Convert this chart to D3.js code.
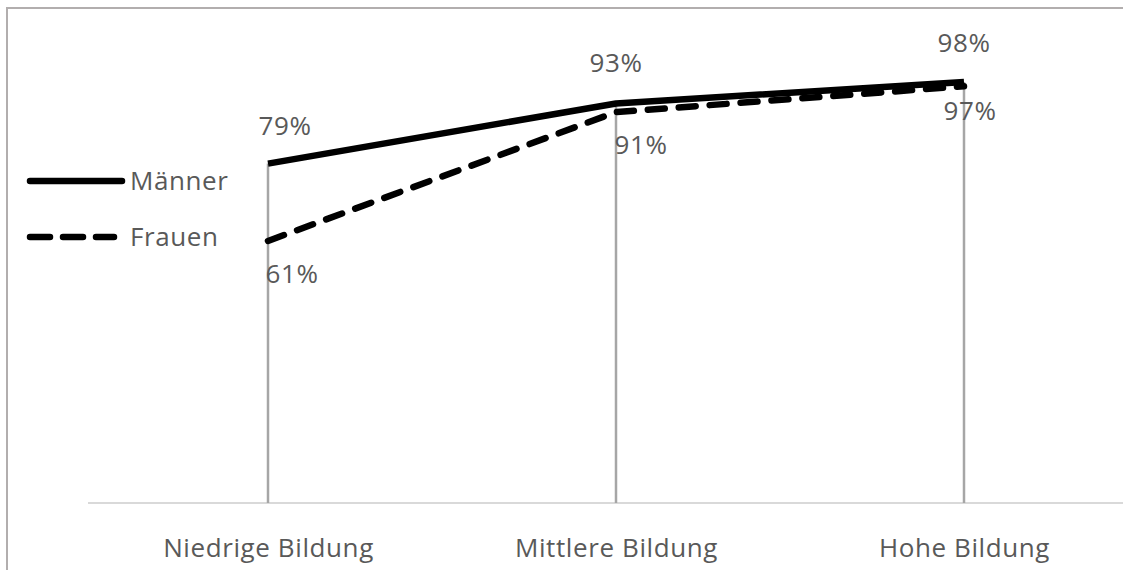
<!DOCTYPE html>
<html>
<head>
<meta charset="utf-8">
<script src="https://cdn.jsdelivr.net/npm/d3@7"></script>
<style>
  html, body { margin: 0; padding: 0; background: #fff; }
  svg { display: block; }
  text { font-family: "Open Sans", "Noto Sans", sans-serif; fill: #595959; letter-spacing: 0.6px; }
</style>
</head>
<body>
<svg id="chart" width="1123" height="570"></svg>
<script>
// Anteil nach Bildungsniveau und Geschlecht
const categories = ["Niedrige Bildung", "Mittlere Bildung", "Hohe Bildung"];
const maenner = [79, 93, 98];
const frauen = [61, 91, 97];
const seriesNames = ["Männer", "Frauen"];

const W = 1123, H = 570;
const FONT = "26px";
const svg = d3.select("#chart");

svg.append("rect").attr("width", W).attr("height", H).attr("fill", "#fff");

// Rahmen (nur links und oben sichtbar)
svg.append("rect")
  .attr("x", 7).attr("y", 8)
  .attr("width", W + 20).attr("height", H + 20)
  .attr("fill", "none")
  .attr("stroke", "#b2aeae")
  .attr("stroke-width", 2);

const plotLeft = 94, plotRight = 1138;
const x = d3.scalePoint()
  .domain(categories)
  .range([plotLeft, plotRight])
  .padding(0.5);

const y = d3.scaleLinear().domain([0, 100]).range([503, 73.4]);

// Kategorieachse
const xAxis = svg.append("g")
  .attr("transform", `translate(0,${y(0)})`)
  .call(d3.axisBottom(x).tickSize(0).tickPadding(36));
xAxis.select(".domain")
  .attr("d", `M${88},0H${W}`)
  .attr("stroke", "#d9d9d9")
  .attr("stroke-width", 2);
xAxis.selectAll("text")
  .style("font-size", FONT)
  .style("font-family", null)
  .attr("fill", "#595959");
xAxis.attr("font-family", null);

const rows = categories.map((c, i) => ({ c, m: maenner[i], f: frauen[i] }));

// Lotlinien vom höchsten Punkt zur Achse
svg.append("g").selectAll("line")
  .data(rows)
  .join("line")
  .attr("x1", d => x(d.c)).attr("x2", d => x(d.c))
  .attr("y1", d => y(Math.max(d.m, d.f))).attr("y2", y(0))
  .attr("stroke", "#a6a6a6")
  .attr("stroke-width", 2.5);

const line = d3.line().x(d => x(d.c)).y(d => y(d.v));

svg.append("path")
  .datum(rows.map(d => ({ c: d.c, v: d.f })))
  .attr("d", line)
  .attr("fill", "none")
  .attr("stroke", "#000")
  .attr("stroke-width", 6.5)
  .attr("stroke-dasharray", "17,14")
  .attr("stroke-linecap", "round");

svg.append("path")
  .datum(rows.map(d => ({ c: d.c, v: d.m })))
  .attr("d", line)
  .attr("fill", "none")
  .attr("stroke", "#000")
  .attr("stroke-width", 6.5)
  .attr("stroke-linejoin", "round");

// Datenbeschriftungen
const labelFmt = v => v + "%";
const mOffsets = [[17, -29], [0, -31], [0, -30]];
const fOffsets = [[24, 42], [25, 42], [6, 34]];

svg.append("g").selectAll("text")
  .data(rows)
  .join("text")
  .attr("x", (d, i) => x(d.c) + mOffsets[i][0])
  .attr("y", (d, i) => y(d.m) + mOffsets[i][1])
  .attr("text-anchor", "middle")
  .style("font-size", FONT)
  .text(d => labelFmt(d.m));

svg.append("g").selectAll("text")
  .data(rows)
  .join("text")
  .attr("x", (d, i) => x(d.c) + fOffsets[i][0])
  .attr("y", (d, i) => y(d.f) + fOffsets[i][1])
  .attr("text-anchor", "middle")
  .style("font-size", FONT)
  .text(d => labelFmt(d.f));

// Legende
const legend = svg.append("g");
const legendRows = [
  { name: seriesNames[0], y: 181, x2: 122, dash: null },
  { name: seriesNames[1], y: 237, x2: 114, dash: "20,13" }
];
legendRows.forEach(r => {
  legend.append("line")
    .attr("x1", 30).attr("x2", r.x2)
    .attr("y1", r.y).attr("y2", r.y)
    .attr("stroke", "#000")
    .attr("stroke-width", 6.5)
    .attr("stroke-linecap", "round")
    .attr("stroke-dasharray", r.dash);
  legend.append("text")
    .attr("x", 130).attr("y", r.y + 9)
    .style("font-size", FONT)
    .text(r.name);
});
</script>
</body>
</html>
